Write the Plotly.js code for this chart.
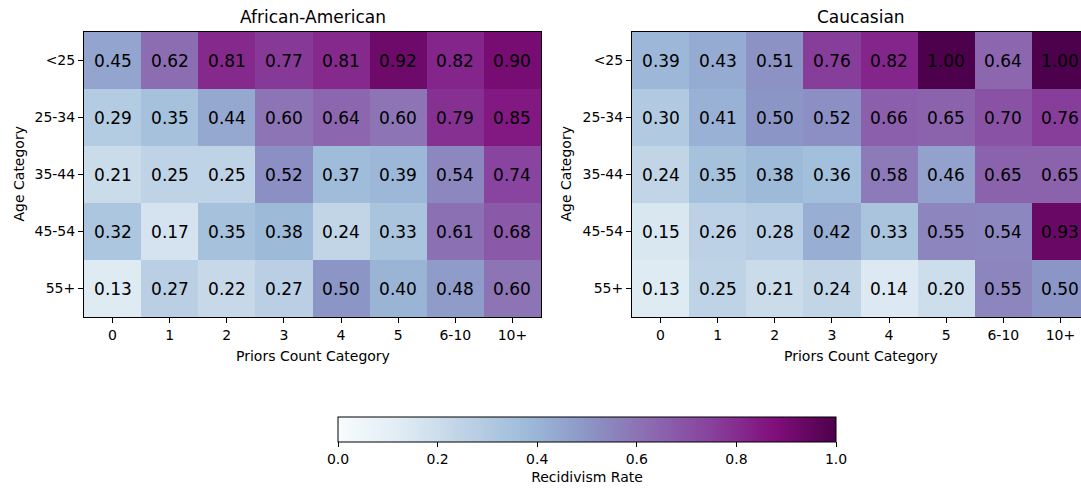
<!DOCTYPE html>
<html>
<head>
<meta charset="utf-8">
<script src="https://cdn.plot.ly/plotly-3.0.1.min.js"></script>
<style>
html,body{margin:0;padding:0;overflow:hidden;background:#fff;}
#chart{width:1100px;height:492px;}
</style>
</head>
<body>
<div id="chart"></div>
<script>
const priorsCategories = ["0","1","2","3","4","5","6-10","10+"];
const ageCategories = ["<25","25-34","35-44","45-54","55+"];

const africanAmerican = [
  [0.45,0.62,0.81,0.77,0.81,0.92,0.82,0.90],
  [0.29,0.35,0.44,0.60,0.64,0.60,0.79,0.85],
  [0.21,0.25,0.25,0.52,0.37,0.39,0.54,0.74],
  [0.32,0.17,0.35,0.38,0.24,0.33,0.61,0.68],
  [0.13,0.27,0.22,0.27,0.50,0.40,0.48,0.60]
];
const caucasian = [
  [0.39,0.43,0.51,0.76,0.82,1.00,0.64,1.00],
  [0.30,0.41,0.50,0.52,0.66,0.65,0.70,0.76],
  [0.24,0.35,0.38,0.36,0.58,0.46,0.65,0.65],
  [0.15,0.26,0.28,0.42,0.33,0.55,0.54,0.93],
  [0.13,0.25,0.21,0.24,0.14,0.20,0.55,0.50]
];
const panelTitles = ["African-American","Caucasian"];
const colorTickVals = [0,0.2,0.4,0.6,0.8,1.0];
const colorTickText = ["0.0","0.2","0.4","0.6","0.8","1.0"];

const BuPu = [
  [0.0,"#f7fcfd"],[0.125,"#e0ecf4"],[0.25,"#bfd3e6"],[0.375,"#9ebcda"],
  [0.5,"#8c96c6"],[0.625,"#8c6bb1"],[0.75,"#88419d"],[0.875,"#810f7c"],[1.0,"#4d004b"]
];

const W = 1100, H = 492;
const FONT = "DejaVu Sans, sans-serif";

function hm(z, xa, ya){
  return {
    type:"heatmap", z:z, x:priorsCategories, y:ageCategories,
    xaxis:xa, yaxis:ya, coloraxis:"coloraxis",
    texttemplate:"%{z:.2f}", textfont:{family:FONT,size:17,color:"#000"},
    hoverinfo:"x+y+z", xgap:0, ygap:0
  };
}

const data = [hm(africanAmerican,"x","y"), hm(caucasian,"x2","y2")];

const ydom = [(H-317)/H, (H-32)/H];
function xax(dom, anchor){
  return {
    domain:dom, anchor:anchor, type:"category",
    categoryorder:"array", categoryarray:priorsCategories,
    showline:true, linecolor:"#000", linewidth:1, mirror:true,
    ticks:"outside", ticklen:5, tickwidth:1, tickcolor:"#000",
    tickfont:{family:FONT,size:14,color:"#000"},
    showgrid:false, zeroline:false, fixedrange:true
  };
}
function yax(anchor){
  return {
    domain:ydom, anchor:anchor, type:"category",
    categoryorder:"array", categoryarray:ageCategories, autorange:"reversed",
    showline:true, linecolor:"#000", linewidth:1, mirror:true,
    ticks:"outside", ticklen:5, tickwidth:1, tickcolor:"#000",
    tickfont:{family:FONT,size:14,color:"#000"},
    showgrid:false, zeroline:false, fixedrange:true
  };
}

const annotations = [];
[["x","y"],["x2","y2"]].forEach(function(p,i){
  annotations.push({text:panelTitles[i], xref:p[0]+" domain", yref:p[1]+" domain",
    x:0.5, y:1, xanchor:"center", yanchor:"bottom", yshift:3, showarrow:false,
    font:{family:FONT,size:17,color:"#000"}});
  annotations.push({text:"Priors Count Category", xref:p[0]+" domain", yref:p[1]+" domain",
    x:0.5, y:0, xanchor:"center", yanchor:"top", yshift:-29, showarrow:false,
    font:{family:FONT,size:14,color:"#000"}});
  annotations.push({text:"Age Category", xref:p[0]+" domain", yref:p[1]+" domain",
    x:0, y:0.5, xanchor:"center", yanchor:"middle", xshift:(i===0?-66:-67), textangle:-90, showarrow:false,
    font:{family:FONT,size:14,color:"#000"}});
});

const layout = {
  width:W, height:H,
  margin:{l:0,r:0,t:0,b:0},
  paper_bgcolor:"#fff", plot_bgcolor:"#fff",
  font:{family:FONT,size:14,color:"#000"},
  xaxis:xax([84/W,541/W],"y"),
  yaxis:yax("x"),
  xaxis2:xax([632/W,1089/W],"y2"),
  yaxis2:yax("x2"),
  coloraxis:{
    cmin:0, cmax:1, colorscale:BuPu,
    colorbar:{
      orientation:"h", x:587/W, xanchor:"center", y:(H-417)/H, yanchor:"top",
      len:498, lenmode:"pixels", thickness:25, thicknessmode:"pixels",
      xpad:0, ypad:0, outlinewidth:1, outlinecolor:"#000",
      ticks:"outside", ticklen:5, tickwidth:1, tickcolor:"#000",
      tickvals:colorTickVals, ticktext:colorTickText,
      tickfont:{family:FONT,size:14,color:"#000"},
      title:{text:"Recidivism Rate", side:"bottom", font:{family:FONT,size:14,color:"#000"}}
    }
  },
  annotations:annotations,
  showlegend:false
};

Plotly.newPlot("chart", data, layout, {displayModeBar:false, staticPlot:false});
</script>
</body>
</html>
